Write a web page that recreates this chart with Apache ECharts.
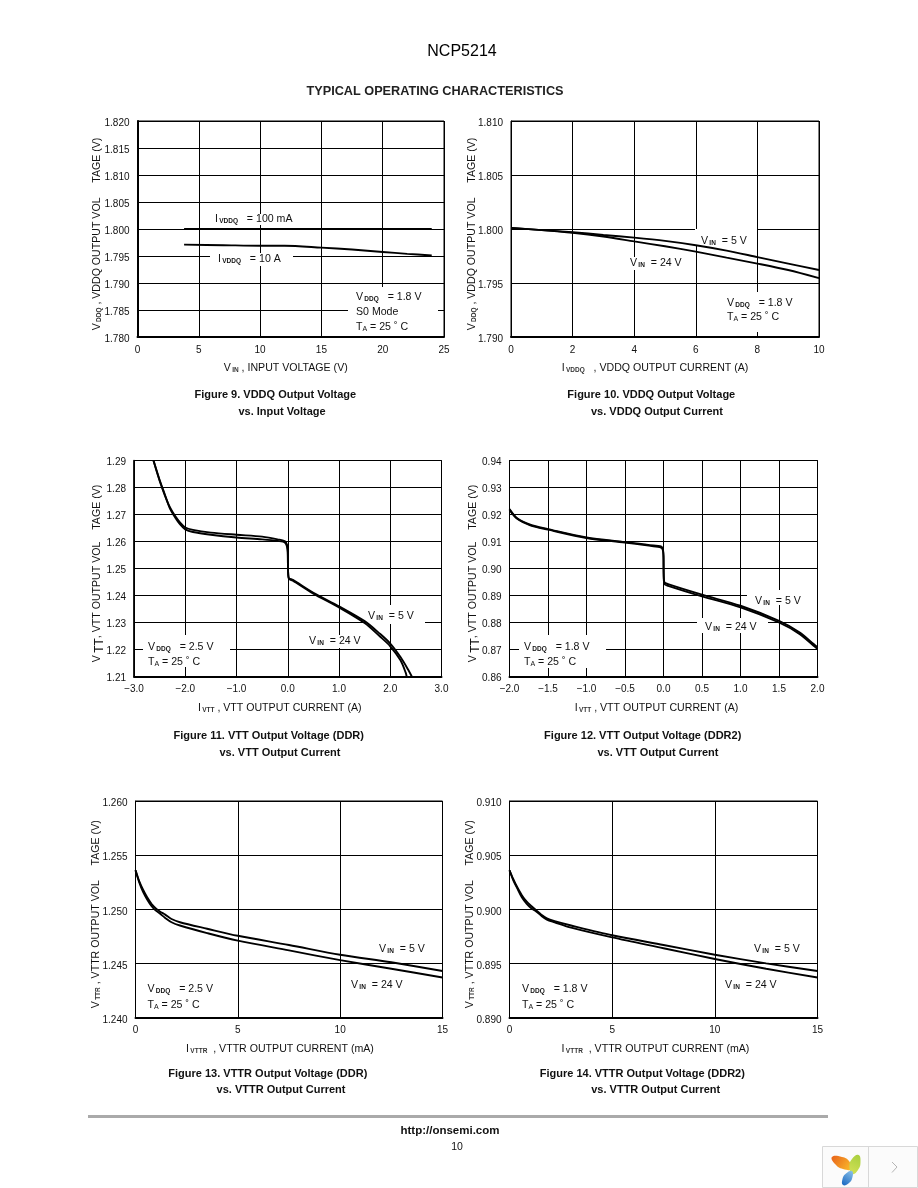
<!DOCTYPE html>
<html><head><meta charset="utf-8">
<style>html,body{margin:0;padding:0;background:#fff}#c{width:918px;height:1188px}</style>
<script src="https://cdn.jsdelivr.net/npm/echarts@6/dist/echarts.min.js"></script>
</head><body><div id="c"></div>
<script>
// ---------- Figure 9 ----------
const fig9X100mA = [3.8, 8, 12, 16, 20, 24];
const fig9Y100mA = [1.8, 1.8, 1.8, 1.8, 1.8, 1.8];
const fig9X10A = [3.8, 7, 10, 12, 15, 17.5, 20, 22, 24];
const fig9Y10A = [1.7971, 1.797, 1.7969, 1.7969, 1.79655, 1.7962, 1.79575, 1.7954, 1.7951];
// ---------- Figure 10 ----------
const fig10X = [0, 1, 2, 3, 4, 5, 6, 7, 8, 9, 10];
const fig10Y5V = [1.8001, 1.7999, 1.7997, 1.79945, 1.7992, 1.7989, 1.7985, 1.798, 1.7974, 1.7968, 1.7962];
const fig10Y24V = [1.8001, 1.7999, 1.79965, 1.7993, 1.79885, 1.7984, 1.7979, 1.79735, 1.7968, 1.7962, 1.79545];
// ---------- Figure 11 ----------
const fig11X5V = [-2.62, -2.5, -2.4, -2.3, -2.2, -2.1, -2, -1.85, -1.5, -1, -0.5, -0.2, -0.05, 0, 0.005, 0.02, 0.1, 0.5, 1, 1.5, 1.8, 2, 2.2, 2.35, 2.42];
const fig11Y5V = [1.29, 1.2825, 1.2772, 1.2727, 1.2695, 1.267, 1.2652, 1.2643, 1.2633, 1.2625, 1.2618, 1.2608, 1.26, 1.257, 1.25, 1.2465, 1.2458, 1.241, 1.236, 1.2305, 1.2258, 1.2222, 1.2172, 1.2125, 1.21];
const fig11X24V = [-2.62, -2.5, -2.4, -2.3, -2.2, -2.1, -2, -1.85, -1.5, -1, -0.5, -0.2, -0.05, 0, 0.005, 0.02, 0.1, 0.5, 1, 1.5, 1.8, 2, 2.2, 2.3, 2.32];
const fig11Y24V = [1.29, 1.2828, 1.2775, 1.2723, 1.269, 1.2663, 1.2645, 1.2635, 1.2625, 1.2615, 1.2608, 1.2602, 1.2595, 1.256, 1.25, 1.2463, 1.2455, 1.2407, 1.2356, 1.2298, 1.2248, 1.2212, 1.216, 1.2115, 1.21];
// ---------- Figure 12 ----------
const fig12X = [-2, -1.9, -1.73, -1.5, -1, -0.5, -0.13, -0.02, 0, 0.002, 0.01, 0.06, 0.5, 1, 1.5, 1.77, 1.95, 2];
const fig12Y5V = [0.922, 0.9186, 0.9162, 0.9146, 0.9115, 0.9098, 0.9085, 0.9079, 0.9045, 0.899, 0.895, 0.8942, 0.8903, 0.8862, 0.8806, 0.8763, 0.872, 0.8708];
const fig12Y24V = [0.9217, 0.9184, 0.916, 0.9144, 0.9113, 0.9096, 0.9082, 0.9075, 0.904, 0.898, 0.8943, 0.8936, 0.8897, 0.8856, 0.88, 0.8757, 0.8714, 0.8702];
// ---------- Figure 13 ----------
const fig13X = [0, 0.18, 0.37, 0.57, 0.78, 0.98, 1.19, 1.45, 1.76, 2.17, 3.5, 5, 7.5, 10, 12.5, 15];
const fig13Y5V = [1.2536, 1.2526, 1.2518, 1.2511, 1.2505, 1.2501, 1.2498, 1.2495, 1.2491, 1.2488, 1.2482, 1.24755, 1.2467, 1.2458, 1.2451, 1.2443];
const fig13Y24V = [1.2536, 1.2525, 1.2516, 1.2509, 1.2503, 1.2499, 1.2496, 1.2492, 1.2488, 1.2485, 1.2478, 1.2471, 1.2462, 1.2453, 1.2445, 1.2437];
// ---------- Figure 14 ----------
const fig14X = [0, 0.18, 0.36, 0.6, 0.84, 1.06, 1.3, 1.55, 1.82, 2.2, 3, 5, 7.5, 10, 12.5, 15];
const fig14Y5V = [0.9036, 0.9028, 0.9021, 0.9013, 0.9007, 0.9003, 0.8999, 0.8995, 0.89915, 0.8989, 0.8985, 0.8976, 0.8967, 0.8958, 0.895, 0.8943];
const fig14Y24V = [0.9036, 0.9027, 0.902, 0.9011, 0.9005, 0.9001, 0.8998, 0.8994, 0.89905, 0.8988, 0.8983, 0.8974, 0.8964, 0.8954, 0.8945, 0.8937];

const FONT = '"Liberation Sans", Arial, sans-serif';
const INK = '#111';
const RICH = {
  n: {fontFamily: FONT, fontSize: 10.6, color: INK},
  s: {fontFamily: FONT, fontSize: 6.5, fontWeight: 'bold', color: '#333', verticalAlign: 'bottom', padding: [4, 0, 0, 0]},
  a: {fontFamily: FONT, fontSize: 7, color: '#777', verticalAlign: 'bottom', padding: [4, 0, 0, 0]},
  u: {fontFamily: FONT, fontSize: 12, color: INK, verticalAlign: 'bottom', padding: [5, 0, 0, 0]}
};
const vddq = v => `{n|V}{s|\u2009DDQ}{n|\u00a0\u00a0 = ${v} V}`;
const ta = '{n|T}{a|A}{n| = 25 \u02da C}';
const vin = v => `{n|V}{s|\u2009IN}{n|\u00a0 = ${v} V}`;

const panels = [
  {l: 137.5, t: 121, w: 306.5, h: 216, xMin: 0, xMax: 25, xInt: 5, xDig: 0, yMin: 1.78, yMax: 1.82, yInt: 0.005, yDig: 3, yLh: 5, leftW: 2,
   xName: '{n|V}{s|\u2009IN}{n|\u00a0, INPUT VOLTAGE (V)}', xPad: 10,
   yName: '{n|V}{s|\u2009DDQ}{n|\u00a0, VDDQ OUTPUT VOL\u00a0\u00a0\u00a0\u00a0\u00a0TAGE (V)}', yGap: 34.5,
   series: [['IVDDQ = 100 mA', fig9X100mA, fig9Y100mA], ['IVDDQ = 10 A', fig9X10A, fig9Y10A]],
   cap: [['Figure 9. VDDQ Output Voltage', 275.3, 395], ['vs. Input Voltage', 282, 412]]},
  {l: 511, t: 121, w: 308, h: 216, xMin: 0, xMax: 10, xInt: 2, xDig: 0, yMin: 1.79, yMax: 1.81, yInt: 0.005, yDig: 3, yLh: 5, leftW: 1,
   xName: '{n|I}{s|\u2009VDDQ}{n|\u00a0\u00a0\u00a0, VDDQ OUTPUT CURRENT (A)}', xPad: 20,
   yName: '{n|V}{s|\u2009DDQ}{n|\u00a0, VDDQ OUTPUT VOL\u00a0\u00a0\u00a0\u00a0\u00a0TAGE (V)}', yGap: 33,
   series: [['VIN = 5 V', fig10X, fig10Y5V], ['VIN = 24 V', fig10X, fig10Y24V]],
   cap: [['Figure 10. VDDQ Output Voltage', 651.3, 395], ['vs. VDDQ Output Current', 657, 412]]},
  {l: 134, t: 460.5, w: 307.5, h: 216, xMin: -3, xMax: 3, xInt: 1, xDig: 1, yMin: 1.21, yMax: 1.29, yInt: 0.01, yDig: 2, yLh: 3, leftW: 1.5,
   xName: '{n|I}{s|\u2009VTT}{n|\u00a0, VTT OUTPUT CURRENT (A)}', xPad: 16,
   yName: '{n|V}{u|\u2009TT}{n|, VTT OUTPUT VOL\u00a0\u00a0\u00a0\u00a0TAGE (V)}', yGap: 28,
   series: [['VIN = 5 V', fig11X5V, fig11Y5V], ['VIN = 24 V', fig11X24V, fig11Y24V]],
   cap: [['Figure 11. VTT Output Voltage (DDR)', 268.7, 736], ['vs. VTT Output Current', 280, 753]]},
  {l: 509.5, t: 460.5, w: 308, h: 216, xMin: -2, xMax: 2, xInt: 0.5, xDig: 1, yMin: 0.86, yMax: 0.94, yInt: 0.01, yDig: 2, yLh: 3, leftW: 1,
   xName: '{n|I}{s|\u2009VTT}{n|\u00a0, VTT OUTPUT CURRENT (A)}', xPad: 14,
   yName: '{n|V}{u|\u2009TT}{n|, VTT OUTPUT VOL\u00a0\u00a0\u00a0\u00a0TAGE (V)}', yGap: 27.5,
   series: [['VIN = 5 V', fig12X, fig12Y5V], ['VIN = 24 V', fig12X, fig12Y24V]],
   cap: [['Figure 12. VTT Output Voltage (DDR2)', 642.7, 736], ['vs. VTT Output Current', 658, 753]]},
  {l: 135.5, t: 801, w: 307, h: 216.5, xMin: 0, xMax: 15, xInt: 5, xDig: 0, yMin: 1.24, yMax: 1.26, yInt: 0.005, yDig: 3, yLh: 5, leftW: 1,
   xName: '{n|I}{s|\u2009VTTR}{n|\u00a0\u00a0, VTTR OUTPUT CURRENT (mA)}', xPad: 18,
   yName: '{n|V}{s|\u2009TTR}{n|\u00a0, VTTR OUTPUT VOL\u00a0\u00a0\u00a0\u00a0\u00a0TAGE (V)}', yGap: 33.5,
   series: [['VIN = 5 V', fig13X, fig13Y5V], ['VIN = 24 V', fig13X, fig13Y24V]],
   cap: [['Figure 13. VTTR Output Voltage (DDR)', 267.8, 1073.5], ['vs. VTTR Output Current', 281, 1090]]},
  {l: 509.5, t: 801, w: 308, h: 216.5, xMin: 0, xMax: 15, xInt: 5, xDig: 0, yMin: 0.89, yMax: 0.91, yInt: 0.005, yDig: 3, yLh: 5, leftW: 1,
   xName: '{n|I}{s|\u2009VTTR}{n|\u00a0\u00a0, VTTR OUTPUT CURRENT (mA)}', xPad: 16,
   yName: '{n|V}{s|\u2009TTR}{n|\u00a0, VTTR OUTPUT VOL\u00a0\u00a0\u00a0\u00a0\u00a0TAGE (V)}', yGap: 33.5,
   series: [['VIN = 5 V', fig14X, fig14Y5V], ['VIN = 24 V', fig14X, fig14Y24V]],
   cap: [['Figure 14. VTTR Output Voltage (DDR2)', 642.3, 1073.5], ['vs. VTTR Output Current', 655.7, 1090]]}
];

// annotation text: [rich string, left x, centre y]; boxes: [x, y, w, h] knock out grid lines
const notes = [
  ['{n|I}{s|\u2009VDDQ}{n|\u00a0\u00a0 = 100 mA}', 215, 219], ['{n|I}{s|\u2009VDDQ}{n|\u00a0\u00a0 = 10 A}', 218, 259],
  [vddq('1.8'), 356, 297.5], ['{n|S0 Mode}', 356, 312.5], [ta, 356, 327.5],
  [vin('5'), 701, 241], [vin('24'), 630, 263], [vddq('1.8'), 727, 303], [ta, 727, 317.5],
  [vddq('2.5'), 148, 647], [ta, 148, 662], [vin('5'), 368, 616], [vin('24'), 309, 641],
  [vddq('1.8'), 524, 647], [ta, 524, 662], [vin('5'), 755, 601], [vin('24'), 705, 627],
  [vddq('2.5'), 147.5, 989.5], [ta, 147.5, 1005], [vin('5'), 379, 949], [vin('24'), 351, 985],
  [vddq('1.8'), 522, 989.5], [ta, 522, 1005], [vin('5'), 754, 949], [vin('24'), 725, 985.5]
];
const boxes = [
  [201, 214, 85, 11], [210, 253, 83, 13], [348, 287, 90, 49],
  [695, 229, 62, 17], [627, 257, 57, 13], [723, 292, 74, 40],
  [143, 635, 87, 32], [366, 605, 59, 19], [304, 635, 61, 13],
  [519, 635, 87, 33], [747, 590, 70, 15], [697, 618, 71, 15]
];

const text = (s, x, y, o) => ({type: 'text', z: 5, x, y, style: Object.assign({
  text: s, fontFamily: FONT, fontSize: 10, fill: INK, align: 'left', verticalAlign: 'middle'}, o || {})});

const gfx = [];
boxes.forEach(b => gfx.push({type: 'rect', z: 1, shape: {x: b[0], y: b[1], width: b[2], height: b[3]}, style: {fill: '#fff'}}));
notes.forEach(n => gfx.push({type: 'text', z: 3, x: n[1], y: n[2], style: {text: n[0], rich: RICH, fontFamily: FONT, fontSize: 10, fill: INK, align: 'left', verticalAlign: 'middle'}}));
panels.forEach(p => p.cap.forEach(c => gfx.push(text(c[0], c[1], c[2], {fontSize: 11, fontWeight: 'bold', align: 'center', fill: '#111'}))));
gfx.push(text('NCP5214', 462, 52, {fontSize: 16, align: 'center', fill: '#000'}));
gfx.push(text('TYPICAL OPERATING CHARACTERISTICS', 435, 91, {fontSize: 12.7, fontWeight: 'bold', align: 'center', fill: '#222'}));
gfx.push({type: 'rect', z: 1, shape: {x: 88, y: 1115, width: 740, height: 3}, style: {fill: '#aaaaaa'}});
gfx.push(text('http://onsemi.com', 450, 1131, {fontSize: 11.5, fontWeight: 'bold', align: 'center', fill: '#111'}));
gfx.push(text('10', 457, 1147, {fontSize: 10.5, align: 'center'}));
// corner widget
gfx.push({type: 'rect', z: 1, shape: {x: 822.5, y: 1146.5, width: 95, height: 41}, style: {fill: '#fbfbfb', stroke: '#d8d8d8', lineWidth: 1}});
gfx.push({type: 'line', z: 2, shape: {x1: 868.5, y1: 1146, x2: 868.5, y2: 1187}, style: {stroke: '#d8d8d8', lineWidth: 1}});
gfx.push({type: 'polyline', z: 2, shape: {points: [[892, 1162], [897, 1167], [892, 1172.5]]}, style: {stroke: '#b5b5b5', lineWidth: 1, fill: 'none'}});
const grad = (a, b, x, y, x2, y2) => ({type: 'linear', x, y, x2, y2, colorStops: [{offset: 0, color: a}, {offset: 1, color: b}]});
const leaf = (points, fill) => gfx.push({type: 'polygon', z: 2, shape: {points, smooth: 0.5}, style: {fill}});
leaf([[832, 1157], [842, 1157], [849, 1161], [851.5, 1169], [843, 1169], [835, 1164]], grad('#e8621a', '#fbc02d', 0, 0, 1, 1));
leaf([[858.5, 1155], [860.5, 1162], [858, 1170], [852.5, 1174], [849.5, 1167], [852, 1159]], grad('#a7cf3e', '#d4e157', 1, 0, 0, 1));
leaf([[852, 1171], [852.5, 1177], [849, 1183], [843, 1185], [842.5, 1179], [846, 1173.5]], grad('#8fc4ea', '#1565c0', 1, 0, 0, 1));

const minus = s => s.replace('-', '\u2212');
const option = {
  animation: false,
  backgroundColor: '#fff',
  grid: panels.map(p => ({left: p.l, top: p.t, width: p.w, height: p.h, show: true, borderColor: '#000', borderWidth: 1, backgroundColor: 'transparent', containLabel: false})),
  xAxis: panels.map((p, i) => ({
    type: 'value', gridIndex: i, min: p.xMin, max: p.xMax, interval: p.xInt,
    name: p.xName, nameLocation: 'middle', nameGap: 26, nameMoveOverlap: false,
    nameTextStyle: {rich: RICH, fontFamily: FONT, fontSize: 10.6, color: INK, padding: [0, p.xPad, 0, 0]},
    axisLine: {show: true, onZero: false, lineStyle: {color: '#000', width: 2}},
    axisTick: {show: false},
    axisLabel: {fontFamily: FONT, fontSize: 10, color: INK, margin: 8, formatter: v => minus(v.toFixed(p.xDig)), hideOverlap: false},
    splitLine: {show: true, lineStyle: {color: '#000', width: 1}}
  })),
  yAxis: panels.map((p, i) => ({
    type: 'value', gridIndex: i, min: p.yMin, max: p.yMax, interval: p.yInt,
    name: p.yName, nameLocation: 'middle', nameGap: p.yGap, nameRotate: 90, nameMoveOverlap: false,
    nameTextStyle: {rich: RICH, fontFamily: FONT, fontSize: 10.6, color: INK, padding: [0, 10, 0, 0]},
    axisLine: {show: true, onZero: false, lineStyle: {color: '#000', width: p.leftW}},
    axisTick: {show: false},
    axisLabel: {fontFamily: FONT, fontSize: 10, color: INK, margin: 8, verticalAlign: 'top', lineHeight: p.yLh, formatter: v => v.toFixed(p.yDig), hideOverlap: false},
    splitLine: {show: true, lineStyle: {color: '#000', width: 1}}
  })),
  graphic: {elements: gfx},
  series: panels.flatMap((p, i) => p.series.map(s => ({
    type: 'line', name: s[0], xAxisIndex: i, yAxisIndex: i, z: 2,
    data: s[1].map((x, k) => [x, s[2][k]]),
    showSymbol: false, symbol: 'none', smooth: 0.3,
    lineStyle: {color: '#000', width: 1.9}, clip: true
  })))
};
echarts.init(document.getElementById('c'), null, {renderer: 'canvas'}).setOption(option);
</script></body></html>
